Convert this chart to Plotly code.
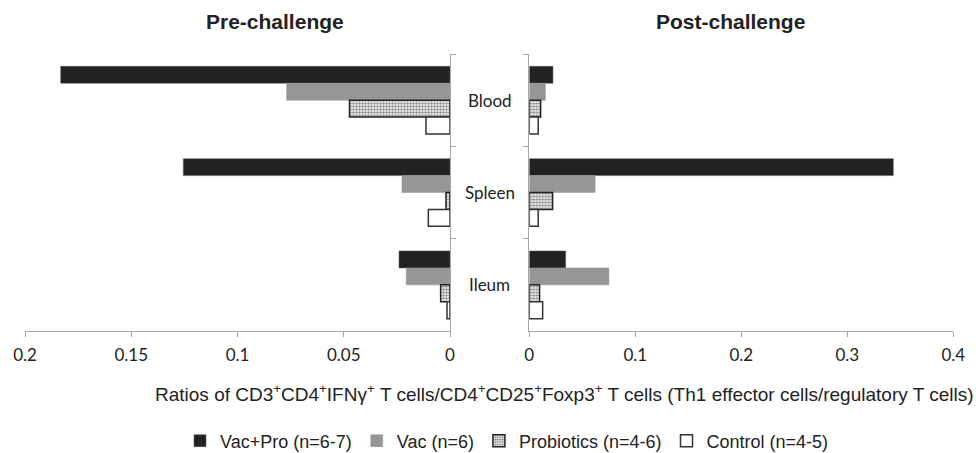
import plotly.graph_objects as go

categories = ["Blood", "Spleen", "Ileum"]
series_names = ["Vac+Pro (n=6-7)", "Vac (n=6)", "Probiotics (n=4-6)", "Control (n=4-5)"]

pre_vacpro = [0.1832, 0.1255, 0.0240]
pre_vac = [0.0769, 0.0226, 0.0206]
pre_probiotics = [0.0473, 0.0019, 0.0044]
pre_control = [0.0113, 0.0102, 0.0014]

post_vacpro = [0.0223, 0.3434, 0.0343]
post_vac = [0.0152, 0.0621, 0.0751]
post_probiotics = [0.0107, 0.0220, 0.0097]
post_control = [0.0084, 0.0084, 0.0126]

pre_ticks = [0, 0.05, 0.1, 0.15, 0.2]
pre_ticktext = ["0", "0.05", "0.1", "0.15", "0.2"]
post_ticks = [0, 0.1, 0.2, 0.3, 0.4]
post_ticktext = ["0", "0.1", "0.2", "0.3", "0.4"]

panel_titles = ["Pre-challenge", "Post-challenge"]
x_title = ("Ratios of CD3<sup>+</sup>CD4<sup>+</sup>IFNγ<sup>+</sup> T cells/CD4<sup>+</sup>CD25<sup>+</sup>"
           "Foxp3<sup>+</sup> T cells (Th1 effector cells/regulatory T cells)")

styles = [
    dict(color="#222222", line=dict(color="#555555", width=0.5)),
    dict(color="#969696", line=dict(color="#969696", width=0.5)),
    dict(color="white", line=dict(color="#222222", width=1.5),
         pattern=dict(shape=".", fgcolor="#222222", bgcolor="white", size=3, solidity=0.55)),
    dict(color="white", line=dict(color="#333333", width=1.5)),
]

pre = [pre_vacpro, pre_vac, pre_probiotics, pre_control]
post = [post_vacpro, post_vac, post_probiotics, post_control]

fig = go.Figure()
for i, name in enumerate(series_names):
    fig.add_trace(go.Bar(x=pre[i], y=categories, orientation="h", name=name,
                         marker=styles[i], xaxis="x", yaxis="y", legendgroup=name))
for i, name in enumerate(series_names):
    fig.add_trace(go.Bar(x=post[i], y=categories, orientation="h", name=name,
                         marker=styles[i], xaxis="x2", yaxis="y2", legendgroup=name,
                         showlegend=False))

W, H = 978, 453
ydom = [1 - 331 / H, 1 - 54 / H]
axis_col = "#a6a6a6"
tickfont = dict(family="Lato", size=17, color="#222222")

common = dict(showline=True, linecolor=axis_col, linewidth=1.2, ticks="outside", ticklen=5,
              tickcolor=axis_col, showgrid=False, zeroline=False, automargin=False)

fig.update_layout(
    width=W, height=H, autosize=False,
    margin=dict(l=0, r=0, t=0, b=0, pad=0, autoexpand=False),
    paper_bgcolor="white", plot_bgcolor="white",
    barmode="group", bargap=0.267, bargroupgap=0,
    xaxis=dict(domain=[25 / W, 450 / W], range=[0.2, 0], tickvals=pre_ticks, ticktext=pre_ticktext,
               tickfont=tickfont, ticklabelstandoff=3, anchor="y", **common),
    yaxis=dict(domain=ydom, type="category", range=[2.5, -0.5], side="right",
               tickson="boundaries", showticklabels=False, anchor="x", **common),
    xaxis2=dict(domain=[529.3 / W, 953.3 / W], range=[0, 0.4], tickvals=post_ticks, ticktext=post_ticktext,
                tickfont=tickfont, ticklabelstandoff=3, anchor="y2", **common),
    yaxis2=dict(domain=ydom, type="category", range=[2.5, -0.5], side="left",
                tickson="boundaries", showticklabels=False, anchor="x2", **common),
    legend=dict(orientation="h", x=180 / W, xanchor="left", y=1 - 441 / H, yanchor="middle",
                font=dict(family="Liberation Sans", size=18, color="#222222"),
                traceorder="normal", bgcolor="rgba(0,0,0,0)", itemclick=False),
    showlegend=True,
)

annotations = [
    dict(text="<b>" + panel_titles[0] + "</b>", x=275 / W, y=1 - 21 / H, xref="paper", yref="paper",
         showarrow=False, xanchor="center", yanchor="middle",
         font=dict(family="Liberation Sans", size=21, color="#222222")),
    dict(text="<b>" + panel_titles[1] + "</b>", x=730 / W, y=1 - 21 / H, xref="paper", yref="paper",
         showarrow=False, xanchor="center", yanchor="middle",
         font=dict(family="Liberation Sans", size=21, color="#222222")),
    dict(text=x_title, x=564 / W, y=1 - 393 / H, xref="paper", yref="paper",
         showarrow=False, xanchor="center", yanchor="middle",
         font=dict(family="Liberation Sans", size=19, color="#222222")),
]
for c in categories:
    annotations.append(dict(text=c, x=489.7 / W, y=c, xref="paper", yref="y2",
                            showarrow=False, xanchor="center", yanchor="middle",
                            font=dict(family="Lato", size=17, color="#222222")))
fig.update_layout(annotations=annotations)

fig.write_html("out.html")
